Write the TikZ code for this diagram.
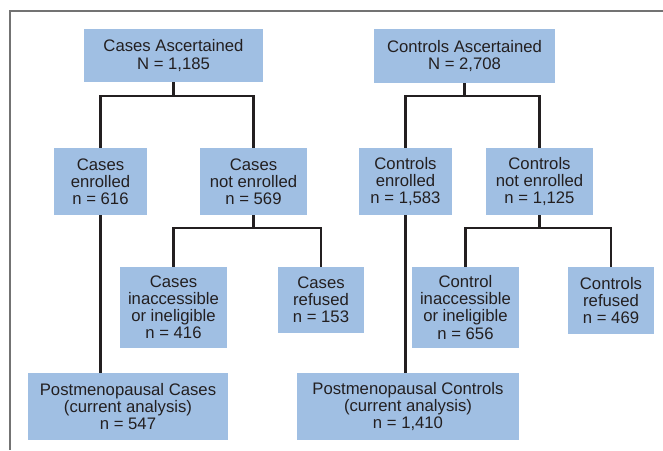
\documentclass[tikz,border=0pt]{standalone}
\usepackage{fontspec}
\setmainfont{Liberation Sans}
\definecolor{kasten}{RGB}{160,191,227}
\definecolor{schrift}{RGB}{35,31,32}
\tikzset{
	box/.style={fill=kasten, text=schrift, align=center, inner sep=0pt, font=\fontsize{9.5}{9.7}\selectfont},
	linie/.style={draw=schrift, line width=1.2pt},
	rahmen/.style={draw=black!55, line width=0.6pt}
}

\begin{document}
\begin{tikzpicture}[x=0.02cm, y=-0.02cm]
	\useasboundingbox (0,0) rectangle (663,450);
	
	%Rahmen
	\draw[rahmen] (10,450) -- (10,11) -- (663,11);
	
	%Kaesten erste Ebene
	\node[box, minimum width=3.58cm, minimum height=1.06cm] (casAsc) at (173.5,55.5) {Cases Ascertained\\N = 1,185};
	\node[box, minimum width=3.62cm, minimum height=1.08cm] (conAsc) at (464.5,56) {Controls Ascertained\\N = 2,708};
	
	%Kaesten zweite Ebene
	\node[box, minimum width=1.86cm, minimum height=1.34cm] (casEnr) at (100.5,181.5) {Cases\\enrolled\\n = 616};
	\node[box, minimum width=2.14cm, minimum height=1.34cm] (casNot) at (253.5,181.5) {Cases\\not enrolled\\n = 569};
	\node[box, minimum width=1.86cm, minimum height=1.34cm] (conEnr) at (405.5,181.5) {Controls\\enrolled\\n = 1,583};
	\node[box, minimum width=2.14cm, minimum height=1.34cm] (conNot) at (539.5,181.5) {Controls\\not enrolled\\n = 1,125};
	
	%Kaesten dritte Ebene
	\node[box, minimum width=2.14cm, minimum height=1.62cm] (casInac) at (173.5,307.5) {Cases\\inaccessible\\or ineligible\\n = 416};
	\node[box, minimum width=1.72cm, minimum height=1.32cm] (casRef) at (321,300) {Cases\\refused\\n = 153};
	\node[box, minimum width=2.14cm, minimum height=1.62cm] (conInac) at (465.5,307.5) {Control\\inaccessible\\or ineligible\\n = 656};
	\node[box, minimum width=1.72cm, minimum height=1.34cm] (conRef) at (611,300.5) {Controls\\refused\\n = 469};
	
	%Kaesten unten
	\node[box, minimum width=4.00cm, minimum height=1.34cm] (casPost) at (128,406.5) {Postmenopausal Cases\\(current analysis)\\n = 547};
	\node[box, minimum width=4.44cm, minimum height=1.34cm] (conPost) at (408,406.5) {Postmenopausal Controls\\(current analysis)\\n = 1,410};
	
	%Verzweigungspunkte
	\coordinate (kCasA) at (173.5,96);
	\coordinate (kConA) at (464.5,96);
	\coordinate (kCasN) at (253.5,228);
	\coordinate (kConN) at (539.5,228);
	
	%Linien
	\draw[linie] (casAsc.south) -- (kCasA);
	\draw[linie] (casEnr.north) |- (kCasA) -| (casNot.north);
	\draw[linie] (conAsc.south) -- (kConA);
	\draw[linie] (conEnr.north) |- (kConA) -| (conNot.north);
	\draw[linie] (casNot.south) -- (kCasN);
	\draw[linie] (casInac.north) |- (kCasN) -| (casRef.north);
	\draw[linie] (conNot.south) -- (kConN);
	\draw[linie] (conInac.north) |- (kConN) -| (conRef.north);
	\draw[linie] (casEnr.south) -- (casEnr.south |- casPost.north);
	\draw[linie] (conEnr.south) -- (conEnr.south |- conPost.north);
	
\end{tikzpicture}
\end{document}
